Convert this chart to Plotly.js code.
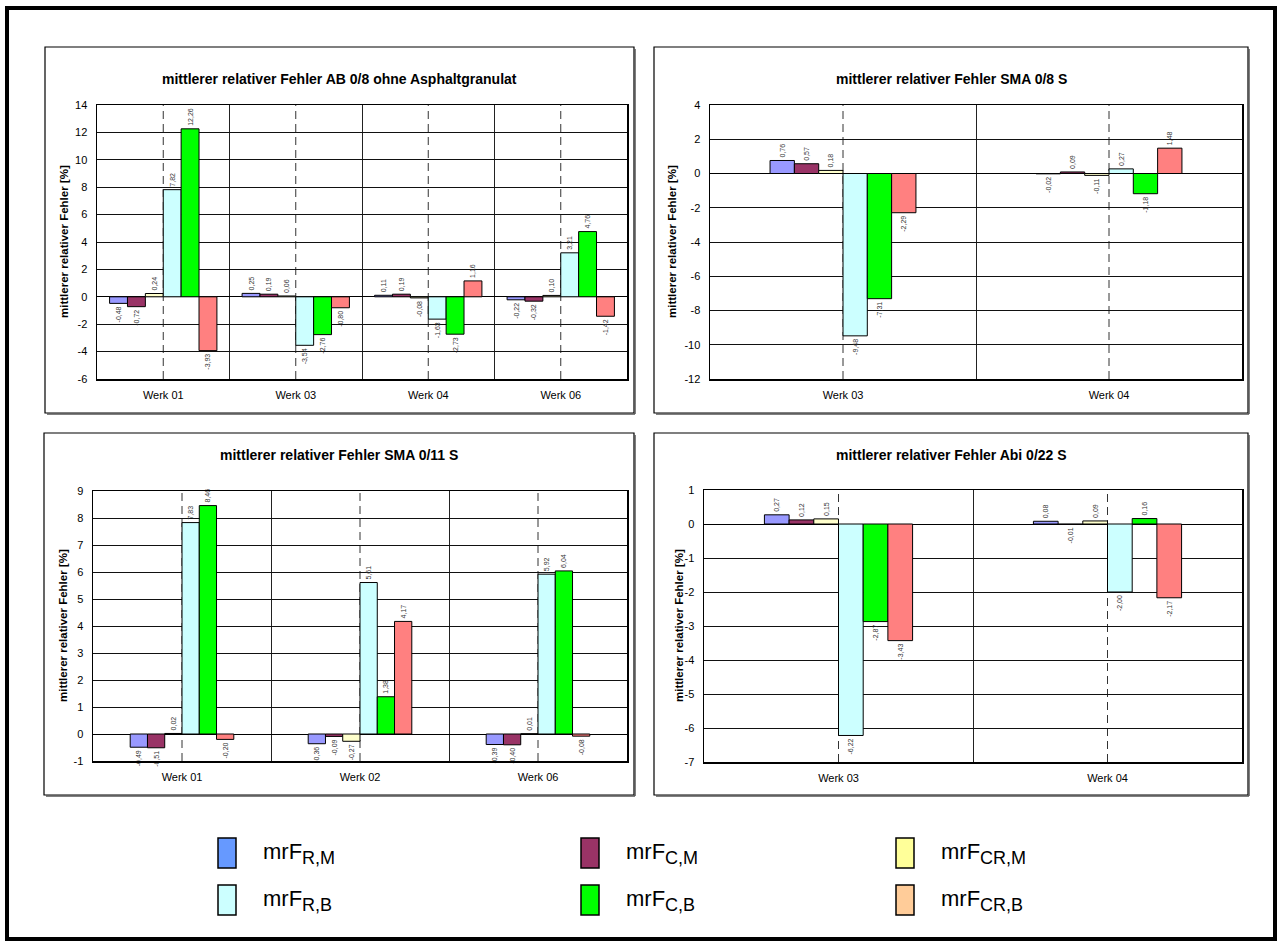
<!DOCTYPE html>
<html>
<head>
<meta charset="utf-8">
<script src="https://cdn.plot.ly/plotly-3.0.1.min.js"></script>
<style>html,body{margin:0;padding:0;background:#fff;}#chart{width:1280px;height:943px;}</style>
</head>
<body>
<div id="chart"></div>
<script>
// ---------- data ----------
const seriesLabels = ['R,M', 'C,M', 'CR,M', 'R,B', 'C,B', 'CR,B'];
const barColors = ['#9999FF', '#993366', '#FFFFCC', '#CCFFFF', '#00FF00', '#FF8080'];
const legendColors = ['#6699FF', '#993366', '#FFFF99', '#CCFFFF', '#00FF00', '#FFCC99'];

// Chart 1: AB 0/8 ohne Asphaltgranulat
const title1 = 'mittlerer relativer Fehler AB 0/8 ohne Asphaltgranulat';
const cats1 = ['Werk 01', 'Werk 03', 'Werk 04', 'Werk 06'];
const rm1 = [-0.48, 0.25, 0.11, -0.22];
const cm1 = [-0.72, 0.19, 0.19, -0.32];
const crm1 = [0.24, 0.06, -0.08, 0.10];
const rb1 = [7.82, -3.54, -1.63, 3.21];
const cb1 = [12.26, -2.76, -2.73, 4.76];
const crb1 = [-3.93, -0.80, 1.16, -1.42];
const yTicks1 = [-6, -4, -2, 0, 2, 4, 6, 8, 10, 12, 14];

// Chart 2: SMA 0/8 S
const title2 = 'mittlerer relativer Fehler SMA 0/8 S';
const cats2 = ['Werk 03', 'Werk 04'];
const rm2 = [0.76, -0.02];
const cm2 = [0.57, 0.09];
const crm2 = [0.18, -0.11];
const rb2 = [-9.48, 0.27];
const cb2 = [-7.31, -1.18];
const crb2 = [-2.29, 1.48];
const yTicks2 = [-12, -10, -8, -6, -4, -2, 0, 2, 4];

// Chart 3: SMA 0/11 S
const title3 = 'mittlerer relativer Fehler SMA 0/11 S';
const cats3 = ['Werk 01', 'Werk 02', 'Werk 06'];
const rm3 = [-0.49, -0.36, -0.39];
const cm3 = [-0.51, -0.09, -0.40];
const crm3 = [0.02, -0.27, 0.01];
const rb3 = [7.83, 5.61, 5.92];
const cb3 = [8.46, 1.38, 6.04];
const crb3 = [-0.20, 4.17, -0.08];
const yTicks3 = [-1, 0, 1, 2, 3, 4, 5, 6, 7, 8, 9];

// Chart 4: Abi 0/22 S
const title4 = 'mittlerer relativer Fehler Abi 0/22 S';
const cats4 = ['Werk 03', 'Werk 04'];
const rm4 = [0.27, 0.08];
const cm4 = [0.12, -0.01];
const crm4 = [0.15, 0.09];
const rb4 = [-6.22, -2.00];
const cb4 = [-2.87, 0.16];
const crb4 = [-3.43, -2.17];
const yTicks4 = [-7, -6, -5, -4, -3, -2, -1, 0, 1];

const axisTitle = 'mittlerer relativer Fehler [%]';

// ---------- layout helpers ----------
const W = 1280, H = 943;
const px = x => x / W;
const py = y => 1 - y / H;
const FONT = 'Arial, "Liberation Sans", sans-serif';

const charts = [
  {title: title1, cats: cats1, series: [rm1, cm1, crm1, rb1, cb1, crb1], ticks: yTicks1,
   plot: [97, 627, 105, 379], box: [45, 634, 47, 413], barW: 0.135, titleY: 79, axTitleX: 64},
  {title: title2, cats: cats2, series: [rm2, cm2, crm2, rb2, cb2, crb2], ticks: yTicks2,
   plot: [710, 1242, 105, 379], box: [654, 1248, 47, 413], barW: 0.0914, titleY: 79, axTitleX: 672},
  {title: title3, cats: cats3, series: [rm3, cm3, crm3, rb3, cb3, crb3], ticks: yTicks3,
   plot: [93, 627, 491, 761], box: [44, 634, 433, 795], barW: 0.097, titleY: 455, axTitleX: 63},
  {title: title4, cats: cats4, series: [rm4, cm4, crm4, rb4, cb4, crb4], ticks: yTicks4,
   plot: [704, 1242, 490, 762], box: [654, 1248, 433, 795], barW: 0.0918, titleY: 455, axTitleX: 679}
];

const fmt = v => v.toFixed(2).replace('.', ',');

const traces = [];
const shapes = [];
const annotations = [];
const layout = {
  width: W, height: H,
  margin: {l: 0, r: 0, t: 0, b: 0},
  paper_bgcolor: '#fff', plot_bgcolor: '#fff',
  barmode: 'overlay',
  showlegend: false,
  font: {family: FONT, color: '#000'},
  shapes: shapes, annotations: annotations
};

// outer frame
shapes.push({type: 'rect', xref: 'paper', yref: 'paper',
  x0: px(7), x1: px(1275), y0: py(8), y1: py(939),
  line: {color: '#000', width: 4}, layer: 'below'});

charts.forEach((c, ci) => {
  const n = ci + 1;
  const xa = n === 1 ? 'x' : 'x' + n;
  const ya = n === 1 ? 'y' : 'y' + n;
  const xKey = n === 1 ? 'xaxis' : 'xaxis' + n;
  const yKey = n === 1 ? 'yaxis' : 'yaxis' + n;
  const [l, r, t, b] = c.plot;

  // chart box (with slight shadow edge on right/bottom)
  shapes.push({type: 'rect', xref: 'paper', yref: 'paper',
    x0: px(c.box[0]), x1: px(c.box[1]), y0: py(c.box[2]), y1: py(c.box[3]),
    line: {color: '#000', width: 1.2}, layer: 'below'});
  shapes.push({type: 'line', xref: 'paper', yref: 'paper',
    x0: px(c.box[1] + 1), x1: px(c.box[1] + 1), y0: py(c.box[2] + 2), y1: py(c.box[3] + 1),
    line: {color: '#555', width: 1.5}, layer: 'below'});
  shapes.push({type: 'line', xref: 'paper', yref: 'paper',
    x0: px(c.box[0] + 2), x1: px(c.box[1] + 1), y0: py(c.box[3] + 1), y1: py(c.box[3] + 1),
    line: {color: '#555', width: 1.5}, layer: 'below'});

  layout[xKey] = {
    domain: [px(l), px(r)], anchor: ya, type: 'category',
    range: [-0.5, c.cats.length - 0.5],
    tickson: 'boundaries', showgrid: true, gridcolor: '#222', gridwidth: 1,
    ticks: 'outside', ticklen: 10, tickcolor: 'rgba(0,0,0,0)',
    ticklabelstandoff: 5,
    tickfont: {family: FONT, size: 11, color: '#000'},
    showline: true, mirror: true, linecolor: '#000', linewidth: 1.5,
    fixedrange: true
  };
  layout[yKey] = {
    domain: [py(b), py(t)], anchor: xa,
    range: [c.ticks[0], c.ticks[c.ticks.length - 1]],
    tickmode: 'array', tickvals: c.ticks, ticktext: c.ticks.map(String),
    showgrid: true, gridcolor: '#111', gridwidth: 1,
    zeroline: true, zerolinecolor: '#000', zerolinewidth: 1,
    ticks: 'outside', ticklen: 6, tickcolor: 'rgba(0,0,0,0)',
    tickfont: {family: FONT, size: 11, color: '#000'},
    showline: true, mirror: true, linecolor: '#000', linewidth: 1.5,
    fixedrange: true
  };

  c.series.forEach((vals, si) => {
    traces.push({
      type: 'bar', x: c.cats, y: vals, xaxis: xa, yaxis: ya,
      name: 'mrF ' + seriesLabels[si],
      width: c.barW, offset: (si - 3) * c.barW,
      marker: {color: barColors[si], line: {color: '#000', width: 1}},
      text: vals.map(fmt), textposition: 'outside', textangle: -90,
      textfont: {family: FONT, size: 7, color: '#333'},
      constraintext: 'none', cliponaxis: false, hoverinfo: 'skip'
    });
  });

  // dashed center lines
  c.cats.forEach((cat, i) => {
    shapes.push({type: 'line', xref: xa, yref: ya + ' domain',
      x0: i, x1: i, y0: 0, y1: 1,
      line: {color: '#333', width: 1, dash: '8px,5px'}, layer: 'below'});
  });

  // chart title
  annotations.push({xref: 'paper', yref: 'paper',
    x: px((c.box[0] + c.box[1]) / 2), y: py(c.titleY),
    text: '<b>' + c.title + '</b>', showarrow: false,
    font: {family: FONT, size: 14, color: '#000'}, xanchor: 'center', yanchor: 'middle'});
  // y-axis title
  annotations.push({xref: 'paper', yref: 'paper',
    x: px(c.axTitleX), y: py((t + b) / 2), textangle: -90,
    text: '<b>' + axisTitle + '</b>', showarrow: false,
    font: {family: FONT, size: 11.5, color: '#000'}, xanchor: 'center', yanchor: 'middle'});
});

// legend (drawn manually, 3 columns x 2 rows)
const legendColX = [218, 581, 896];
const legendRowY = [853, 900];
seriesLabels.forEach((lab, i) => {
  const col = i % 3, row = Math.floor(i / 3);
  const x0 = legendColX[col], yc = legendRowY[row];
  shapes.push({type: 'rect', xref: 'paper', yref: 'paper',
    x0: px(x0), x1: px(x0 + 18), y0: py(yc - 15), y1: py(yc + 15),
    fillcolor: legendColors[i], line: {color: '#000', width: 1.5}});
  annotations.push({xref: 'paper', yref: 'paper',
    x: px(x0 + 43), y: py(yc), xanchor: 'left', yanchor: 'middle',
    text: 'mrF<sub><span style="font-size:18px">' + lab + '</span></sub>', showarrow: false,
    font: {family: FONT, size: 22, color: '#000'}});
});

Plotly.newPlot('chart', traces, layout, {displayModeBar: false, staticPlot: true});
</script>
</body>
</html>
